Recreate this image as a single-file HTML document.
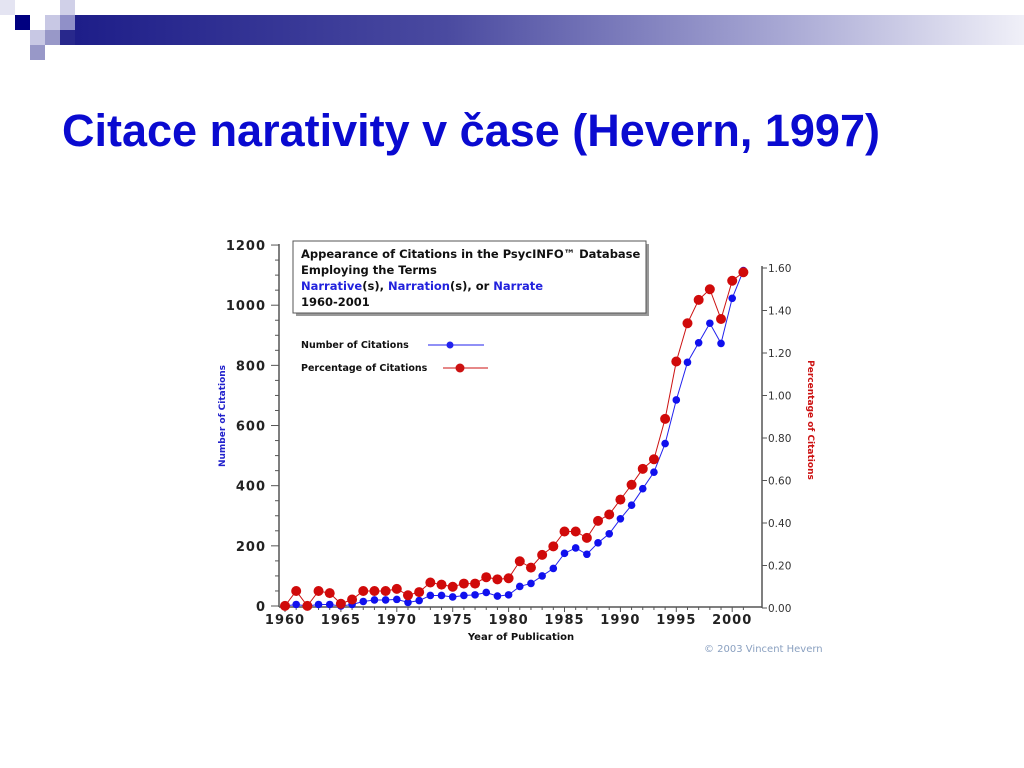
<!DOCTYPE html>
<html><head><meta charset="utf-8"><style>
body{margin:0;background:#fff;width:1024px;height:768px;overflow:hidden;position:relative;font-family:"Liberation Sans",sans-serif}
.sq{position:absolute;width:15px;height:15px}
#title{position:absolute;left:62px;top:105px;font-size:45px;font-weight:bold;color:#0a0ad0;white-space:nowrap}
</style></head><body>
<div>
<div class="sq" style="left:0;top:0;background:#e4e4f2"></div>
<div class="sq" style="left:60px;top:0;background:#d0d0e8"></div>
<div class="sq" style="left:15px;top:15px;background:#000080"></div>
<div class="sq" style="left:45px;top:15px;background:#c8c8e4"></div>
<div class="sq" style="left:30px;top:30px;background:#c8c8e4"></div>
<div class="sq" style="left:45px;top:30px;background:#9898c8"></div>
<div class="sq" style="left:30px;top:45px;background:#9898c8"></div>
<div style="position:absolute;left:60px;top:15px;width:964px;height:30px;background:linear-gradient(90deg,#1c1c88,#4a4aa0 40%,#a8a8d4 75%,#f0f0f8)"></div>
<div class="sq" style="left:60px;top:15px;background:#9090c8"></div>
<div class="sq" style="left:60px;top:30px;background:#28288c"></div>
</div>
<div id="title">Citace narativity v čase (Hevern, 1997)</div>
<svg id="chart" width="1024" height="768" style="position:absolute;left:0;top:0" font-family="'DejaVu Sans',sans-serif"></svg>
<script>
const years=[];for(let y=1960;y<=2001;y++)years.push(y);
const counts=[0,5,0,5,5,0,5,15,20,20,22,12,18,35,35,30,35,37,45,33,37,65,75,100,125,175,193,172,210,240,290,335,390,445,540,685,810,875,940,873,1023,1115];
const percents=[0.01,0.08,0.01,0.08,0.07,0.02,0.04,0.08,0.08,0.08,0.09,0.06,0.075,0.12,0.11,0.10,0.115,0.115,0.145,0.135,0.14,0.22,0.19,0.25,0.29,0.36,0.36,0.33,0.41,0.44,0.51,0.58,0.655,0.70,0.89,1.16,1.34,1.45,1.50,1.36,1.54,1.58];
const leftTicks=[0,200,400,600,800,1000,1200];
const rightTicks=[0,0.2,0.4,0.6,0.8,1.0,1.2,1.4,1.6];
const xTicks=[1960,1965,1970,1975,1980,1985,1990,1995,2000];
const svg=document.getElementById('chart');const NS='http://www.w3.org/2000/svg';
const X=y=>285+(y-1960)*11.18;
const YL=v=>606-v*0.3008;
const YR=v=>608-v*212.5;
function el(t,a,p){const e=document.createElementNS(NS,t);for(const k in a)e.setAttribute(k,a[k]);(p||svg).appendChild(e);return e;}
let e=el('line',{x1:279,y1:244,x2:279,y2:607,stroke:'#555','stroke-width':1.5});


e=el('line',{x1:279,y1:607,x2:762,y2:607,stroke:'#555','stroke-width':1.5});


e=el('line',{x1:762,y1:266,x2:762,y2:608,stroke:'#555','stroke-width':1.5});


for(let v=0;v<=1200;v+=50){el('line',{x1:v%200?275:271,y1:YL(v),x2:279,y2:YL(v),stroke:'#555'});}
leftTicks.forEach(v=>{const t=el('text',{x:266,y:YL(v)+5,'text-anchor':'end','font-size':13,'font-weight':'bold',fill:'#222','letter-spacing':1});t.textContent=v;

});
rightTicks.forEach(v=>{el('line',{x1:762,y1:YR(v),x2:767,y2:YR(v),stroke:'#555'});const t=el('text',{x:768,y:YR(v)+4,'font-size':10.5,fill:'#333'});t.textContent=v.toFixed(2);

});
years.forEach(y=>el('line',{x1:X(y),y1:607,x2:X(y),y2:y%5?610:612,stroke:'#555'}));
xTicks.forEach(y=>{const t=el('text',{x:X(y),y:624,'text-anchor':'middle','font-size':13,'font-weight':'bold',fill:'#222','letter-spacing':1});t.textContent=y;

});
let t=el('text',{x:521,y:640,'text-anchor':'middle','font-size':10,'font-weight':'bold',fill:'#111'});t.textContent='Year of Publication';


t=el('text',{x:0,y:0,transform:'translate(225,416) rotate(-90)','text-anchor':'middle','font-size':9,'font-weight':'bold',fill:'#2222cc'});t.textContent='Number of Citations';


t=el('text',{x:0,y:0,transform:'translate(808,420) rotate(90)','text-anchor':'middle','font-size':9,'font-weight':'bold',fill:'#cc1111'});t.textContent='Percentage of Citations';


e=el('polyline',{points:years.map((y,i)=>X(y)+','+YL(counts[i])).join(' '),fill:'none',stroke:'#2222ee','stroke-width':1});


e=el('polyline',{points:years.map((y,i)=>X(y)+','+YR(percents[i])).join(' '),fill:'none',stroke:'#cc1111','stroke-width':1});


years.forEach((y,i)=>{const c=el('circle',{cx:X(y),cy:YL(counts[i]),r:3.8,fill:'#1010ee'});

});
years.forEach((y,i)=>{const c=el('circle',{cx:X(y),cy:YR(percents[i]),r:5,fill:'#d00a0a'});

});
const g=el('g',{});
el('rect',{x:296,y:244,width:353,height:72,fill:'#999'},g);
el('rect',{x:293,y:241,width:353,height:72,fill:'#fff',stroke:'#555'},g);
[[258,'Appearance of Citations in the PsycINFO™ Database'],[274,'Employing the Terms'],[306,'1960-2001']].forEach(([yy,s])=>{const tt=el('text',{x:301,y:yy,'font-size':11.5,'font-weight':'bold',fill:'#111'},g);tt.textContent=s;});
const tt=el('text',{x:301,y:290,'font-size':11.5,'font-weight':'bold',fill:'#111'},g);
tt.innerHTML='<tspan fill="#2222dd">Narrative</tspan>(s), <tspan fill="#2222dd">Narration</tspan>(s), or <tspan fill="#2222dd">Narrate</tspan>';
[[345,'Number of Citations','#2222ee',428,484,450,3.5],[368,'Percentage of Citations','#cc1111',443,488,460,4.5]].forEach(([yy,s,col,x1,x2,cx,r])=>{
const lg=el('g',{});


const lt=el('text',{x:301,y:yy+3,'font-size':9.5,'font-weight':'bold',fill:'#111'},lg);lt.textContent=s;
el('line',{x1:x1,y1:yy,x2:x2,y2:yy,stroke:col},lg);el('circle',{cx:cx,cy:yy,r:r,fill:col},lg);});
t=el('text',{x:704,y:652,'font-size':10,fill:'#8aa0c0'});t.textContent='© 2003 Vincent Hevern';


</script>
</body></html>
